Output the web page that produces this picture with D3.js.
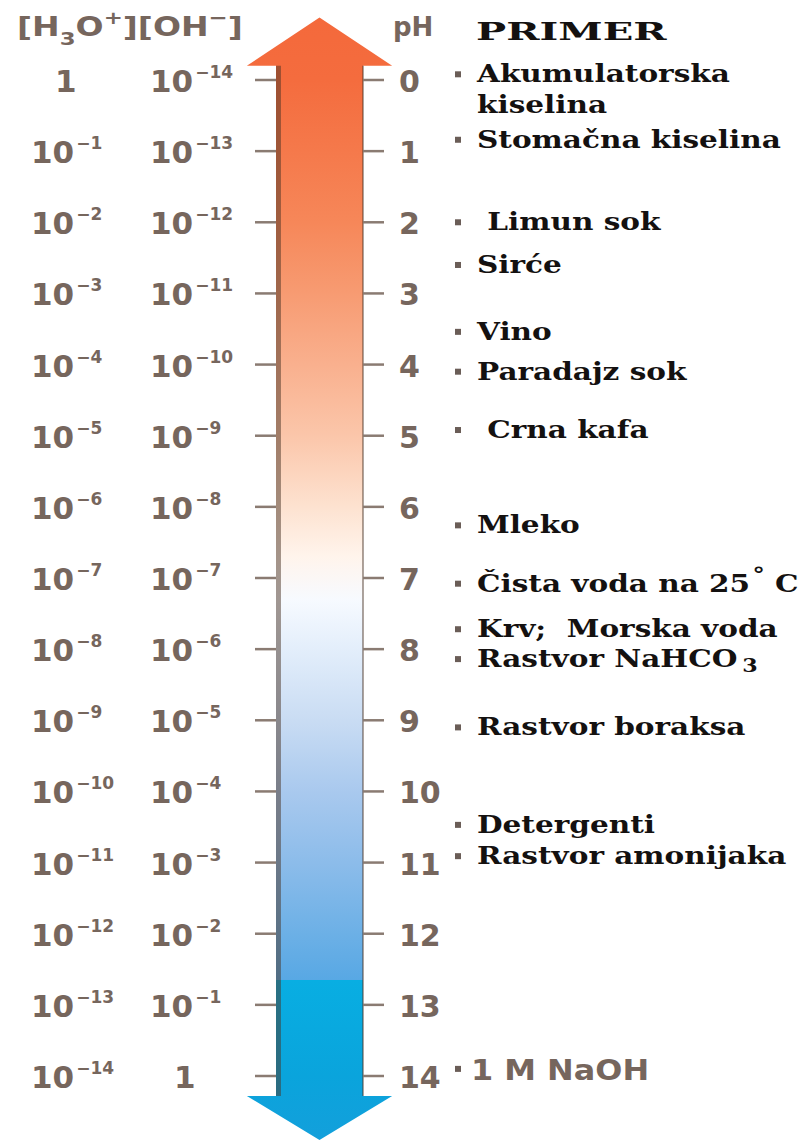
<!DOCTYPE html>
<html>
<head>
<meta charset="utf-8">
<script src="https://cdn.jsdelivr.net/npm/d3@7"></script>
<style>
  body { margin: 0; background: #fff; }
  svg { display: block; }
</style>
</head>
<body>
<div id="chart"></div>
<script>
// pH scale, concentrations written as powers of ten
var phTicks = [0, 1, 2, 3, 4, 5, 6, 7, 8, 9, 10, 11, 12, 13, 14];
var h3oExponents = [0, -1, -2, -3, -4, -5, -6, -7, -8, -9, -10, -11, -12, -13, -14];
var ohExponents = [-14, -13, -12, -11, -10, -9, -8, -7, -6, -5, -4, -3, -2, -1, 0];

// examples (PRIMER) and where they sit on the pH scale
var exampleNames = ['Akumulatorska|kiselina', 'Stomačna kiselina', ' Limun sok', 'Sirće', 'Vino',
    'Paradajz sok', ' Crna kafa', 'Mleko', 'Čista voda na 25°C', 'Krv;  Morska voda',
    'Rastvor NaHCO_3', 'Rastvor boraksa', 'Detergenti', 'Rastvor amonijaka', '1 M NaOH'];
var examplePh = [-0.08, 0.84, 2.0, 2.6, 3.54, 4.1, 4.92, 6.26, 7.08, 7.72, 8.14, 9.1, 10.47, 10.91, 13.9];
var exampleFont = ['serif', 'serif', 'serif', 'serif', 'serif', 'serif', 'serif', 'serif', 'serif',
    'serif', 'serif', 'serif', 'serif', 'serif', 'sans'];

// colour of the arrow along the pH scale
var gradientPh = [-0.9, 0, 1, 2, 3, 4, 5, 6, 6.7, 7.3, 8, 9, 10, 11, 12, 12.65, 12.65, 14, 15];
var gradientColors = ['#f4693b', '#f46c3e', '#f5794b', '#f68759', '#f79b72', '#f9b08e', '#fbc6aa', '#fde2d0',
    '#fff4ec', '#f7faff', '#e3eefb', '#c9dcf3', '#a9c9ee', '#8cbcea', '#6cb0e6', '#58a8e4', '#08aee2',
    '#0aa4dc', '#149fdb'];

var attrs = {
    svgWidth: 812,
    svgHeight: 1141,
    labelFill: '#76665d',
    tickStroke: '#8a7b72',
    textFill: '#141110',
    bulletFill: '#6a5d57',
    sansFont: "'DejaVu Sans', sans-serif",
    serifFont: "'DejaVu Serif', serif",
    serifStretch: 1.23
};

var svg = d3.select('#chart').append('svg')
    .attr('width', attrs.svgWidth)
    .attr('height', attrs.svgHeight)
    .style('background-color', '#fff');

var y = d3.scaleLinear().domain([0, 14]).range([80, 1076]);
var x = d3.scaleLinear().domain([-1, 1]).range([276, 363]);   // shaft edges

//################ ARROW ################
var defs = svg.append('defs');
var grad = defs.append('linearGradient')
    .attr('id', 'phGrad')
    .attr('gradientUnits', 'userSpaceOnUse')
    .attr('x1', 0).attr('x2', 0)
    .attr('y1', y(gradientPh[0])).attr('y2', y(gradientPh[gradientPh.length - 1]));
var gy = d3.scaleLinear().domain([gradientPh[0], gradientPh[gradientPh.length - 1]]).range([0, 1]);
grad.selectAll('stop').data(gradientPh).enter().append('stop')
    .attr('offset', d => gy(d))
    .attr('stop-color', (d, i) => gradientColors[i]);

var headTop = y(-0.2), tipTop = y(-0.88);
var headBot = y(14.28), tipBot = y(14.9);
var arrowPts = [
    [x(0), tipTop], [x(-1.67), headTop], [x(-1), headTop], [x(-1), headBot], [x(-1.67), headBot],
    [x(0), tipBot], [x(1.67), headBot], [x(1), headBot], [x(1), headTop], [x(1.67), headTop]
];
svg.append('path')
    .attr('d', d3.line()(arrowPts) + 'Z')
    .attr('fill', 'url(#phGrad)');

// shaft borders
svg.append('line')
    .attr('x1', x(-1) + 2.5).attr('x2', x(-1) + 2.5)
    .attr('y1', headTop).attr('y2', headBot)
    .attr('stroke', '#4a3426').attr('stroke-opacity', 0.5).attr('stroke-width', 5);
svg.append('line')
    .attr('x1', x(1)).attr('x2', x(1))
    .attr('y1', headTop).attr('y2', headBot)
    .attr('stroke', '#4a3426').attr('stroke-opacity', 0.45).attr('stroke-width', 2);

//################ TICKS ################
var ticks = svg.append('g').attr('class', 'ticks');
ticks.selectAll('.tick-left').data(phTicks).enter().append('line')
    .attr('class', 'tick-left')
    .attr('x1', x(-1) - 21).attr('x2', x(-1))
    .attr('y1', d => y(d)).attr('y2', d => y(d))
    .attr('stroke', attrs.tickStroke).attr('stroke-width', 2.5);
ticks.selectAll('.tick-right').data(phTicks).enter().append('line')
    .attr('class', 'tick-right')
    .attr('x1', x(1)).attr('x2', x(1) + 21)
    .attr('y1', d => y(d)).attr('y2', d => y(d))
    .attr('stroke', attrs.tickStroke).attr('stroke-width', 2.5);

ticks.selectAll('.ph-label').data(phTicks).enter().append('text')
    .attr('class', 'ph-label')
    .attr('x', 399)
    .attr('y', d => y(d) + 12)
    .attr('font-family', attrs.sansFont)
    .attr('font-weight', 'bold')
    .attr('font-size', 30)
    .attr('fill', attrs.labelFill)
    .text(d => d);

//################ CONCENTRATION COLUMNS ################
function powerLabel(sel, x0, exps) {
    var t = sel.selectAll(null).data(exps).enter().append('text')
        .attr('x', d => d === 0 ? x0 + 24 : x0)
        .attr('y', (d, i) => y(phTicks[i]) + 12)
        .attr('font-family', attrs.sansFont)
        .attr('font-weight', 'bold')
        .attr('font-size', 31)
        .attr('fill', attrs.labelFill);
    t.append('tspan').text(d => d === 0 ? '1' : '10');
    t.filter(d => d !== 0).append('tspan')
        .attr('dy', -14)
        .attr('dx', 2)
        .attr('font-size', 17)
        .text(d => '\u2212' + Math.abs(d));
}
var cols = svg.append('g').attr('class', 'columns');
powerLabel(cols, 31, h3oExponents);
powerLabel(cols, 150, ohExponents);

//################ HEADERS ################
var head = svg.append('text')
    .attr('font-family', attrs.sansFont)
    .attr('font-weight', 'bold')
    .attr('font-size', 26)
    .attr('fill', attrs.labelFill);
head.append('tspan').text('[H');
head.append('tspan').attr('font-size', 18).attr('dy', 9).text('3');
head.append('tspan').attr('dy', -9).text('O');
head.append('tspan').attr('font-size', 18).attr('dy', -12).text('+');
head.append('tspan').attr('dy', 12).text('][OH');
head.append('tspan').attr('font-size', 18).attr('dy', -12).text('\u2212');
head.append('tspan').attr('dy', 12).text(']');
var hw = head.node().getBBox().width;
head.attr('transform', 'translate(17,36) scale(' + (226 / hw) + ',1)');

svg.append('text')
    .attr('x', 393).attr('y', 36)
    .attr('font-family', attrs.sansFont)
    .attr('font-weight', 'bold')
    .attr('font-size', 26)
    .attr('fill', attrs.labelFill)
    .text('pH');

var primer = svg.append('text')
    .attr('font-family', attrs.serifFont)
    .attr('font-weight', 'bold')
    .attr('font-size', 25)
    .attr('fill', attrs.textFill)
    .text('PRIMER');
var pw = primer.node().getBBox().width;
primer.attr('transform', 'translate(476,40) scale(' + (191 / pw) + ',1)');

//################ EXAMPLES ################
var ex = svg.append('g').attr('class', 'examples');
ex.selectAll('rect').data(examplePh).enter().append('rect')
    .attr('x', 455).attr('y', d => y(d) - 3)
    .attr('width', 6).attr('height', 6)
    .attr('fill', attrs.bulletFill);

var labels = ex.selectAll('.example').data(exampleNames).enter().append('text')
    .attr('class', 'example')
    .attr('transform', (d, i) => exampleFont[i] === 'serif'
        ? 'translate(477,' + (y(examplePh[i]) + 8) + ') scale(' + attrs.serifStretch + ',1)'
        : 'translate(471,' + (y(examplePh[i]) + 11) + ') scale(1.1,1)')
    .attr('font-family', (d, i) => exampleFont[i] === 'serif' ? attrs.serifFont : attrs.sansFont)
    .attr('font-weight', 'bold')
    .attr('font-size', (d, i) => exampleFont[i] === 'serif' ? 24 : 29)
    .attr('fill', (d, i) => exampleFont[i] === 'serif' ? attrs.textFill : attrs.labelFill)
    .style('white-space', 'pre');

labels.each(function (d) {
    var t = d3.select(this);
    if (d.indexOf('|') >= 0) {
        d.split('|').forEach((line, k) => t.append('tspan').attr('x', 0).attr('dy', k ? 31 : 0).text(line));
    } else if (d.indexOf('_') >= 0) {
        var p = d.split('_');
        t.append('tspan').text(p[0]);
        t.append('tspan').attr('dx', 4).attr('dy', 5).attr('font-size', 18).text(p[1]);
    } else if (d.indexOf('°') >= 0) {
        var q = d.split('°');
        t.append('tspan').text(q[0]);
        t.append('tspan').attr('dx', 2).attr('dy', -10).attr('font-size', 20).text('°');
        t.append('tspan').attr('dy', 10).text(' ' + q[1]);
    } else {
        t.text(d);
    }
});
</script>
</body>
</html>
